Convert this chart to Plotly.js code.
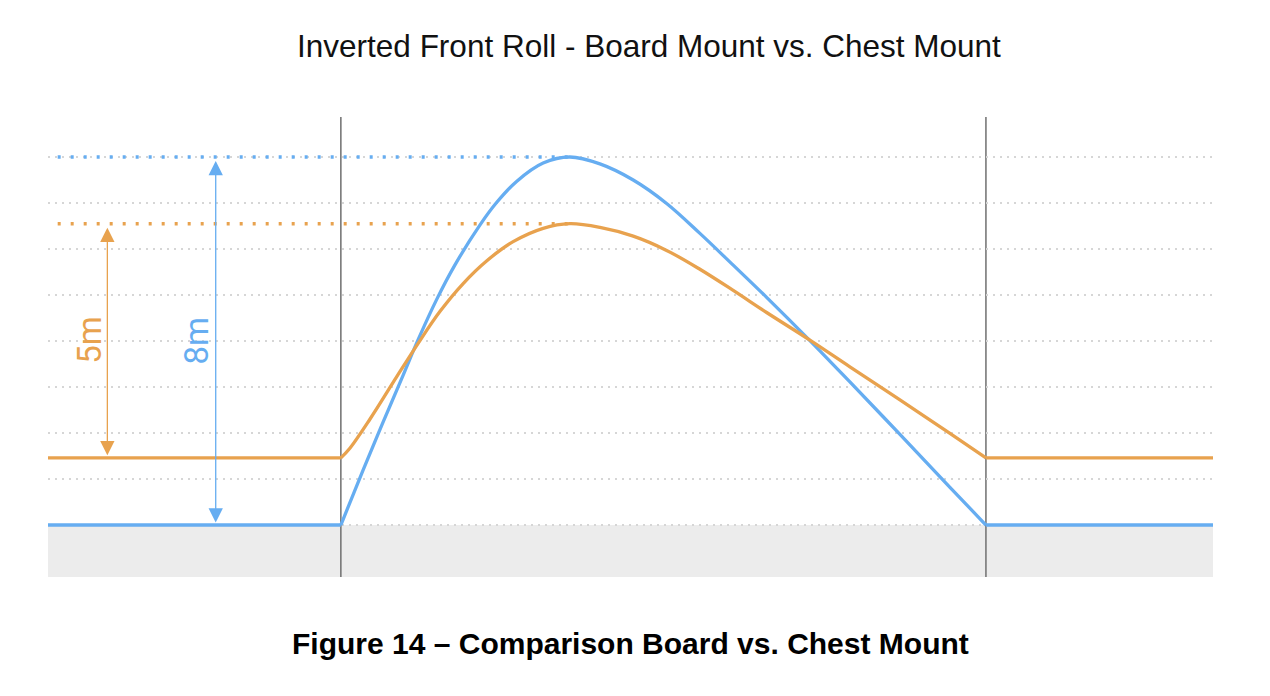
<!DOCTYPE html>
<html>
<head>
<meta charset="utf-8">
<script src="https://cdn.plot.ly/plotly-3.0.1.min.js"></script>
<style>
  html, body { margin: 0; padding: 0; background: #fff; }
  #plot { width: 1270px; height: 696px; }
</style>
</head>
<body>
<div id="plot"></div>
<script>
"use strict";

// Trajectory samples. x: 0 = take-off line, 10 = landing line.
// y: height above water in metres.
const boardX = [0, 0.346, 0.656, 0.966, 1.198, 1.484, 1.767, 2.155, 2.414, 2.724, 3.136, 3.550,
                4.016, 4.532, 5.050, 5.566, 6.082, 6.600, 7.271, 7.891, 8.667, 9.442, 10];
const boardY = [0, 1.20, 2.24, 3.26, 4.03, 4.90, 5.65, 6.52, 7.01, 7.47, 7.87, 8.00,
                7.85, 7.50, 6.99, 6.34, 5.65, 4.95, 4.01, 3.11, 1.97, 0.82, 0];

const chestX = [0, 0.140, 0.450, 0.864, 1.198, 1.535, 1.896, 2.259, 2.671, 3.136, 3.550,
                4.016, 4.532, 5.050, 5.566, 6.082, 6.600, 7.271, 7.891, 8.667, 9.442, 10];
const chestY = [1.46, 1.67, 2.30, 3.22, 3.95, 4.64, 5.25, 5.74, 6.16, 6.45, 6.55,
                6.47, 6.28, 5.97, 5.56, 5.10, 4.62, 4.02, 3.44, 2.72, 1.99, 1.46];

const rampLines = [0, 10];                      // take-off / landing markers
const gridLevels = [0, 1, 2, 3, 4, 5, 6, 7, 8]; // dotted height guides (m)
const heightLabels = ["8m", "5m"];              // board, chest

const BLUE = "#66adf1";
const ORANGE = "#e8a24e";

const X_RANGE = [-4.54, 13.52];
const Y_RANGE = [-1.13, 8.87];

const boardPeak = Math.max(...boardY);
const chestPeak = Math.max(...chestY);
const boardBase = boardY[0];
const chestBase = chestY[0];

const traces = [];

// ── peak guides (square dots) ──
function peakGuide(y, color) {
    return {
        type: "scatter", mode: "lines",
        x: [-4.39, 3.63], y: [y, y],
        line: { color: color, width: 3.5, dash: "3px,10px" },
        hoverinfo: "skip", showlegend: false,
    };
}
traces.push(peakGuide(boardPeak, BLUE));
traces.push(peakGuide(chestPeak, ORANGE));

// ── flat run-in / run-out, then the arc itself ──
function flats(xs, ys, color) {
    return {
        type: "scatter", mode: "lines",
        x: [X_RANGE[0], xs[0], null, xs[xs.length - 1], X_RANGE[1]],
        y: [ys[0], ys[0], null, ys[ys.length - 1], ys[ys.length - 1]],
        line: { color: color, width: 3.3 },
        hoverinfo: "skip", showlegend: false,
    };
}
function arc(xs, ys, color, name) {
    return {
        type: "scatter", mode: "lines", name: name,
        x: xs, y: ys,
        line: { color: color, width: 3.3, shape: "spline", smoothing: 1 },
        showlegend: false,
    };
}
traces.push(flats(boardX, boardY, BLUE));
traces.push(arc(boardX, boardY, BLUE, "Board mount"));
traces.push(flats(chestX, chestY, ORANGE));
traces.push(arc(chestX, chestY, ORANGE, "Chest mount"));

// ── water + ramp markers ──
const shapes = [{
    type: "rect", layer: "below", xref: "paper", yref: "y",
    x0: 0, x1: 1, y0: Y_RANGE[0], y1: 0,
    fillcolor: "#ececec", line: { width: 0 },
}];
for (const x of rampLines) {
    shapes.push({
        type: "line", layer: "below", xref: "x", yref: "paper",
        x0: x, x1: x, y0: 0, y1: 1,
        line: { color: "#6f6f6f", width: 1.5 },
    });
}

// ── height arrows + labels ──
function heightArrow(x, y0, y1, color) {
    return {
        xref: "x", yref: "y", axref: "x", ayref: "y",
        x: x, y: y1, ax: x, ay: y0, text: "",
        showarrow: true, arrowside: "end+start",
        arrowhead: 2, startarrowhead: 2, arrowsize: 2.2, startarrowsize: 2.2,
        arrowwidth: 1.3, arrowcolor: color, standoff: 4, startstandoff: 1,
    };
}
function heightLabel(x, y, text, color) {
    return {
        xref: "x", yref: "y", x: x, y: y, text: text, showarrow: false,
        textangle: -90,
        font: { family: "Roboto, Open Sans, sans-serif", size: 33, weight: 400, color: color },
    };
}
const annotations = [
    heightArrow(-1.94, boardBase, boardPeak, BLUE),
    heightArrow(-3.62, chestBase, chestPeak, ORANGE),
    heightLabel(-2.24, 4.02, heightLabels[0], BLUE),
    heightLabel(-3.91, 4.02, heightLabels[1], ORANGE),
    {
        xref: "paper", yref: "paper", x: 0.4996, y: -0.1435,
        xanchor: "center", yanchor: "middle", showarrow: false,
        text: "<b>Figure 14 – Comparison Board vs. Chest Mount</b>",
        font: { family: "Liberation Sans, Arial, sans-serif", size: 30, color: "#000" },
    },
];

const layout = {
    width: 1270, height: 696,
    margin: { l: 48, r: 57, t: 117, b: 119 },
    paper_bgcolor: "#fff", plot_bgcolor: "#fff",
    title: {
        text: "Inverted Front Roll - Board Mount vs. Chest Mount",
        x: 0.511, xanchor: "center", xref: "container",
        y: 0.934, yanchor: "middle", yref: "container",
        font: { family: "Liberation Sans, Arial, sans-serif", size: 31.5, color: "#111" },
    },
    xaxis: {
        range: X_RANGE, showgrid: false, zeroline: false,
        showticklabels: false, ticks: "", showline: false, fixedrange: true,
    },
    yaxis: {
        range: Y_RANGE, tickmode: "array", tickvals: gridLevels,
        showgrid: true, gridcolor: "#d6d6d6", gridwidth: 1.5, griddash: "2px,5px",
        zeroline: false, showticklabels: false, ticks: "", showline: false, fixedrange: true,
    },
    shapes: shapes,
    annotations: annotations,
    showlegend: false,
};

Plotly.newPlot("plot", traces, layout, { displayModeBar: false, staticPlot: true });
</script>
</body>
</html>
